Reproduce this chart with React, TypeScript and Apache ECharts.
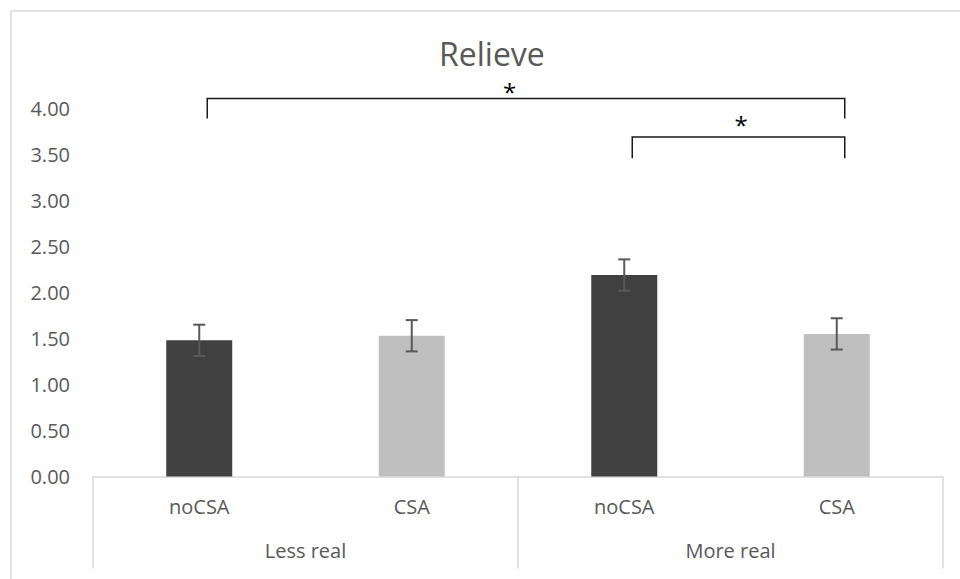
import React, { useEffect, useRef } from 'react';
import * as echarts from 'echarts';

const categories = ['noCSA', 'CSA', 'noCSA', 'CSA'];
const groups = ['Less real', 'More real'];
const means = [1.48, 1.53, 2.19, 1.55];
const errors = [0.17, 0.17, 0.17, 0.17];
const barColors = ['#404040', '#bfbfbf', '#404040', '#bfbfbf'];
const yMin = 0;
const yMax = 4;
const yStep = 0.5;
// significance brackets: [fromCategory, toCategory, topValue, legEndValue, starCategoryPos, starValue]
const brackets = [
  [0, 3, 4.11, 3.89, 1.46, 4.19],
  [2, 3, 3.69, 3.46, 2.55, 3.83],
];
const titleText = 'Relieve';

const FONT = '"Open Sans", "Noto Sans", sans-serif';
const TEXT_COLOR = '#595959';

export default function App() {
  const ref = useRef<HTMLDivElement>(null);
  useEffect(() => {
    if (!ref.current) return;
    const chart = echarts.init(ref.current, null, { renderer: 'svg' });
    const option: any = {
      animation: false,
      backgroundColor: '#ffffff',
      textStyle: { fontFamily: FONT },
      title: {
        text: titleText,
        left: 434,
        top: 32,
        textStyle: { fontSize: 32, fontWeight: 'normal', color: TEXT_COLOR, fontFamily: FONT },
      },
      graphic: [
        {
          type: 'rect',
          z: -10,
          silent: true,
          shape: { x: 11, y: 11, width: 1100, height: 1000 },
          style: { fill: 'none', stroke: '#d9d9d9', lineWidth: 1.5 },
        },
      ],
      grid: { left: 93, right: 17, top: 108.5, bottom: 102.5, containLabel: false },
      xAxis: [
        {
          type: 'category',
          data: categories,
          position: 'bottom',
          axisLine: { show: true, lineStyle: { color: '#d9d9d9', width: 1.5 } },
          axisTick: { show: false },
          axisLabel: { color: TEXT_COLOR, fontSize: 20, fontFamily: FONT, margin: 20, interval: 0 },
        },
        {
          type: 'category',
          data: groups,
          position: 'bottom',
          gridIndex: 0,
          axisLine: { show: false },
          axisTick: { show: true, length: 92, interval: 0, lineStyle: { color: '#d9d9d9', width: 1.5 } },
          axisLabel: { color: TEXT_COLOR, fontSize: 20, fontFamily: FONT, margin: 64, interval: 0 },
        },
      ],
      yAxis: {
        type: 'value',
        min: yMin,
        max: yMax,
        interval: yStep,
        axisLine: { show: false },
        axisTick: { show: false },
        splitLine: { show: false },
        axisLabel: {
          color: TEXT_COLOR,
          fontSize: 20,
          fontFamily: FONT,
          margin: 23,
          formatter: (v: number) => v.toFixed(2),
        },
      },
      series: [
        {
          type: 'bar',
          xAxisIndex: 0,
          barWidth: 66,
          data: means.map((m, i) => ({ value: m, itemStyle: { color: barColors[i] } })),
        },
        {
          type: 'custom',
          xAxisIndex: 0,
          z: 5,
          data: means.map((m, i) => [i, m, errors[i]]),
          encode: { x: 0, y: 1 },
          renderItem: (params: any, api: any) => {
            const i = api.value(0);
            const m = api.value(1);
            const e = api.value(2);
            const hi = api.coord([i, m + e]);
            const lo = api.coord([i, m - e]);
            const half = 6;
            const style = { stroke: '#595959', lineWidth: 2 };
            return {
              type: 'group',
              children: [
                { type: 'line', shape: { x1: hi[0], y1: hi[1], x2: lo[0], y2: lo[1] }, style },
                { type: 'line', shape: { x1: hi[0] - half, y1: hi[1], x2: hi[0] + half, y2: hi[1] }, style },
                { type: 'line', shape: { x1: lo[0] - half, y1: lo[1], x2: lo[0] + half, y2: lo[1] }, style },
              ],
            };
          },
        },
        {
          type: 'custom',
          xAxisIndex: 0,
          z: 6,
          clip: false,
          data: brackets,
          encode: { x: [0, 1], y: [2, 3] },
          renderItem: (params: any, api: any) => {
            const a = api.value(0);
            const b = api.value(1);
            const top = api.value(2);
            const leg = api.value(3);
            const sx = api.value(4);
            const sy = api.value(5);
            const off = 8;
            const p1 = api.coord([a, top]);
            const p2 = api.coord([b, top]);
            const l1 = api.coord([a, leg]);
            const star = api.coord([sx, sy]);
            const c0 = api.coord([Math.floor(sx), sy]);
            const c1 = api.coord([Math.floor(sx) + 1, sy]);
            const frac = sx - Math.floor(sx);
            const starX = c0[0] + (c1[0] - c0[0]) * frac;
            return {
              type: 'group',
              children: [
                {
                  type: 'polyline',
                  shape: {
                    points: [
                      [p1[0] + off, l1[1]],
                      [p1[0] + off, p1[1]],
                      [p2[0] + off, p2[1]],
                      [p2[0] + off, l1[1]],
                    ],
                  },
                  style: { stroke: '#1a1a1a', lineWidth: 1.5, fill: 'none' },
                },
                {
                  type: 'text',
                  x: starX,
                  y: star[1],
                  style: {
                    text: '*',
                    fontSize: 24,
                    fontFamily: FONT,
                    fill: '#000000',
                    align: 'center',
                    verticalAlign: 'middle',
                  },
                },
              ],
            };
          },
        },
      ],
    };
    chart.setOption(option);
    return () => chart.dispose();
  }, []);
  return (
    <div
      ref={ref}
      style={{ position: 'fixed', left: 0, top: 0, width: 960, height: 579, background: '#fff' }}
    />
  );
}
